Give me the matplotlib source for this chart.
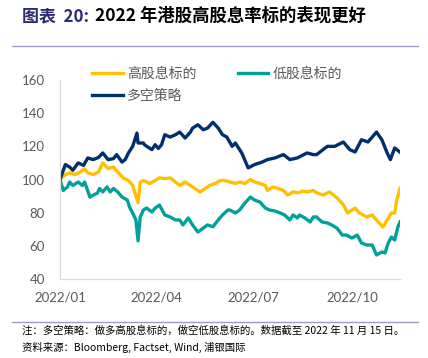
import numpy as np
import matplotlib
matplotlib.use('Agg')
import matplotlib.pyplot as plt
import matplotlib.dates as mdates
from matplotlib.lines import Line2D

plt.rcParams['font.family'] = ['Noto Sans CJK SC', 'DejaVu Sans']

# days since 2022-01-01 (start = 100)
high_days = [0, 5, 9, 14, 19, 23, 26, 31, 36, 40, 45, 50, 54, 59, 64, 68, 73, 75, 78, 84,
             89, 93, 98, 103, 108, 112, 117, 122, 126, 131, 136, 140, 145, 150, 154, 159,
             164, 168, 173, 178, 182, 187, 192, 194, 199, 204, 209, 213, 218, 223, 227,
             232, 237, 240, 246, 252, 259, 265, 269, 276, 280, 287, 292, 296, 302, 306,
             310, 313, 315, 318]
high_vals = [100, 103, 104, 103, 104.5, 106.5, 104, 103, 104.5, 110, 106.6, 107.5, 104.5,
             101, 99.4, 96.4, 86, 98.5, 99.4, 97.6, 99.4, 101, 100.5, 101, 98.5, 96.4, 98.5,
             96.4, 94.6, 92.5, 94.6, 96.4, 97.6, 99.4, 99.4, 98.5, 97.6, 98.5, 97.6, 100,
             98.5, 97.6, 96.4, 93.4, 95.5, 94.6, 93.4, 90.6, 92.5, 92, 93, 92.5, 93.4, 92,
             90.6, 92.5, 89, 84.8, 79.8, 82.8, 79.8, 77.4, 78.6, 75.6, 71.3, 75.6, 79.8,
             79.8, 87.6, 94.6]

low_days = [0, 3, 7, 9, 12, 17, 21, 23, 28, 31, 35, 37, 40, 44, 47, 50, 54, 58, 63, 65,
            68, 71, 73, 75, 78, 81, 86, 89, 93, 98, 103, 108, 112, 115, 120, 124, 129, 134,
            138, 143, 148, 152, 157, 159, 164, 168, 173, 178, 182, 187, 192, 196, 201, 206,
            210, 215, 218, 222, 224, 229, 234, 237, 240, 245, 250, 254, 259, 264, 268, 273,
            278, 282, 287, 292, 296, 301, 304, 307, 310, 313, 316, 318]
low_vals = [100, 93.4, 95.5, 98.5, 96.4, 98.5, 96.4, 98.5, 89.4, 90.6, 91.8, 94.6, 92.5,
            95.5, 92.5, 94.6, 92.5, 89.4, 87.6, 83.4, 79.8, 75.6, 63, 77.4, 81.6, 82.8, 80.4,
            82.8, 84.6, 78.6, 77.4, 75.6, 75.6, 72.6, 76.8, 72.6, 68.3, 70.7, 72.6, 71.5,
            75.6, 78.6, 81.6, 81.6, 79.8, 81.6, 85.8, 89.4, 87.6, 86.4, 82.8, 81.6, 81,
            79.8, 78.6, 75.6, 78.6, 76.8, 78.6, 76.8, 74.4, 77.4, 77.4, 74.4, 73.8, 72.6,
            70.7, 66.5, 66.5, 64.7, 66.5, 61.7, 60.5, 60.5, 54.5, 56.3, 55.7, 61.7, 65.3,
            63.5, 71.3, 74.4]

ls_days = [0, 5, 9, 12, 17, 22, 26, 31, 36, 40, 45, 50, 53, 58, 61, 64, 68, 72, 73, 78,
           79, 82, 86, 89, 92, 95, 98, 103, 108, 112, 117, 122, 124, 129, 134, 138, 143,
           148, 152, 156, 161, 164, 170, 176, 182, 189, 194, 201, 209, 215, 222, 231, 237,
           240, 250, 257, 265, 271, 276, 282, 288, 296, 301, 306, 309, 313, 318]
ls_vals = [100, 109, 107.5, 105.6, 110, 108.5, 113, 112, 113.3, 116, 112, 112.6, 115, 110.5,
           112, 116, 120, 128, 122, 122, 121, 119.6, 118, 121, 118.7, 121, 127, 125.6, 127,
           128.6, 125, 128.6, 131, 133, 130, 131, 134.5, 131, 127, 125.6, 120, 122, 116,
           107, 109, 110.5, 112, 113, 115, 112, 113, 116, 115, 115, 120, 120, 122.6, 118,
           116.6, 124, 122.6, 128.6, 124, 116, 112, 119, 116.5]

start = np.datetime64('2022-01-01')
tick_dates = ['2022-01-01', '2022-04-01', '2022-07-01', '2022-10-01']

W, H = 428, 358
fig = plt.figure(figsize=(W / 100, H / 100), dpi=100)
ax = fig.add_axes([60 / W, 1 - 279 / H, 340 / W, 199 / H])

yellow, teal, navy = '#FFC000', '#00A19B', '#002F6E'
l1, = ax.plot(start + np.array(high_days), high_vals, color=yellow, lw=2.4, label='高股息标的')
l2, = ax.plot(start + np.array(low_days), low_vals, color=teal, lw=2.4, label='低股息标的')
l3, = ax.plot(start + np.array(ls_days), ls_vals, color=navy, lw=2.4, label='多空策略')

ax.set_ylim(40, 160)
ax.set_yticks(range(40, 161, 20))
ax.set_xlim(start, start + 318)
ax.set_xticks([np.datetime64(d) for d in tick_dates])
ax.xaxis.set_major_formatter(mdates.DateFormatter('%Y/%m'))
for s in ['top', 'right']:
    ax.spines[s].set_visible(False)
for s in ['left', 'bottom']:
    ax.spines[s].set_color('#D9D9D9')
    ax.spines[s].set_linewidth(0.9)
ax.tick_params(length=0, labelcolor='#595959')
ax.tick_params(axis='y', pad=11)
ax.tick_params(axis='x', pad=9)
for lab in ax.get_xticklabels() + ax.get_yticklabels():
    lab.set_fontfamily('Lato')
    lab.set_fontsize(9.5)

ax.legend([l1, l3, l2], ['高股息标的', '多空策略', '低股息标的'], ncol=2,
          loc='upper left', bbox_to_anchor=(92 / W, 1 - 67 / H),
          bbox_transform=fig.transFigure, frameon=False, borderpad=0, borderaxespad=0,
          handlelength=2.2, handletextpad=0.3, columnspacing=3.0, labelspacing=0.55,
          labelcolor='#595959', prop={'size': 10})

# title
fig.text(22 / W, 1 - 16 / H, '图表  20:', color='#2B2A72', fontsize=12.2,
         fontweight='bold', va='center')
fig.text(95 / W, 1 - 16 / H, '2022 年港股高股息率标的表现更好', color='black',
         fontsize=12.5, fontweight='bold', va='center')
fig.add_artist(Line2D([12 / W, 418 / W], [1 - 46 / H] * 2, color='#9E9CC6', lw=1))

# footer
fig.add_artist(Line2D([12 / W, 418 / W], [1 - 322 / H] * 2, color='#9E9CC6', lw=1))
fig.text(22 / W, 1 - 331 / H, '注：多空策略：做多高股息标的，做空低股息标的。数据截至 2022 年 11 月 15 日。',
         fontsize=7.5, va='center', color='black')
fig.text(22 / W, 1 - 347 / H, '资料来源：Bloomberg, Factset, Wind, 浦银国际',
         fontsize=7.5, va='center', color='black')

fig.savefig('out.png', dpi=100)
